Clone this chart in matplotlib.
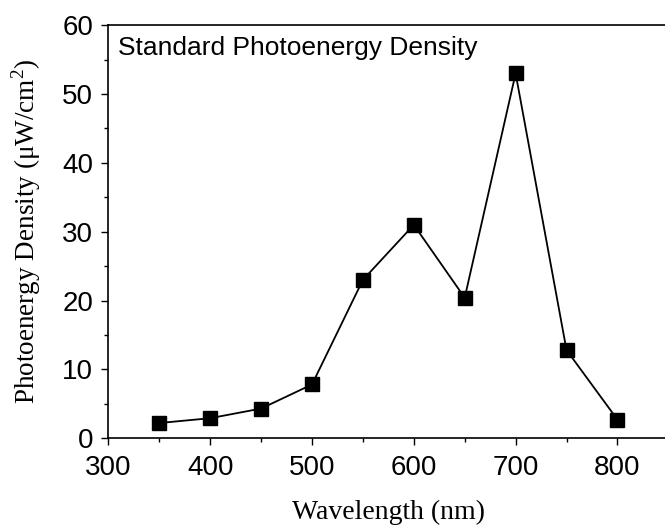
import matplotlib
matplotlib.use('Agg')
import matplotlib.pyplot as plt
from matplotlib.ticker import MultipleLocator

plt.rcParams['mathtext.fontset'] = 'custom'
plt.rcParams['mathtext.rm'] = 'Liberation Serif'

# data
wavelength = [350, 400, 450, 500, 550, 600, 650, 700, 750, 800]
density = [2.2, 2.9, 4.3, 7.8, 23.0, 31.0, 20.4, 53.0, 12.8, 2.7]

fig = plt.figure(figsize=(6.65, 5.26), dpi=100)
ax = fig.add_axes([0.163, 0.167, 0.842, 0.785])

ax.plot(wavelength, density, color='black', lw=1.3, marker='s', ms=9.5,
        mfc='black', mec='black')

ax.set_xlim(300, 850)
ax.set_ylim(0, 60)
ax.xaxis.set_major_locator(MultipleLocator(100))
ax.xaxis.set_minor_locator(MultipleLocator(50))
ax.yaxis.set_major_locator(MultipleLocator(10))
ax.yaxis.set_minor_locator(MultipleLocator(5))
ax.tick_params(which='major', direction='out', length=5, width=1,
               labelsize=20, top=False, right=False)
ax.tick_params(axis='x', which='major', pad=7)
ax.tick_params(axis='y', which='major', pad=6)
ax.tick_params(which='minor', direction='out', length=3, width=1,
               top=False, right=False)
for lab in ax.get_xticklabels() + ax.get_yticklabels():
    lab.set_family('Liberation Sans')
for sp in ax.spines.values():
    sp.set_linewidth(1.2)

ax.set_xlabel('Wavelength (nm)', family='Liberation Serif', fontsize=20, labelpad=14)
ax.set_ylabel('Photoenergy Density (\u03bcW/cm$^{2}$)',
              family='Liberation Serif', fontsize=19.5, labelpad=14)
ax.text(0.018, 0.975, 'Standard Photoenergy Density', transform=ax.transAxes,
        family='Liberation Sans', fontsize=19, va='top', ha='left')

fig.savefig('out.png', dpi=100)
